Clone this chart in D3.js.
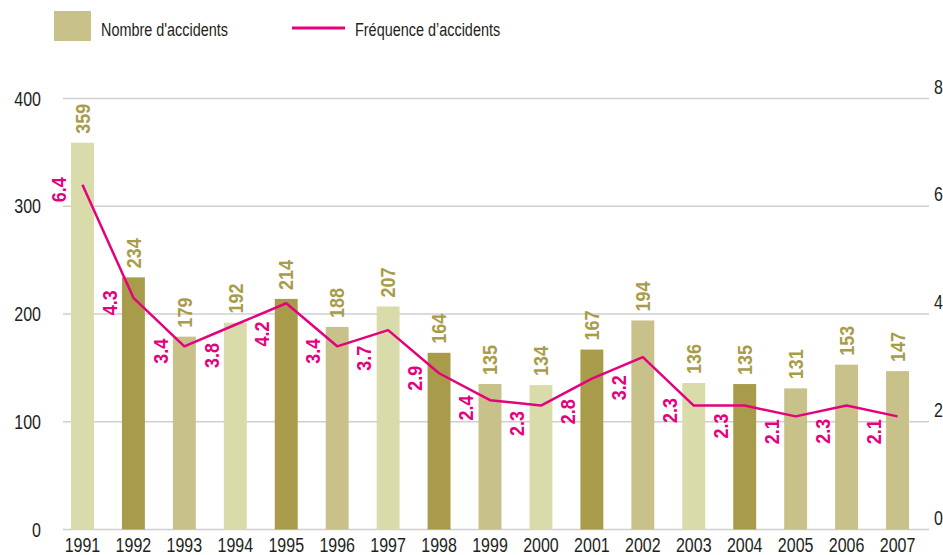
<!DOCTYPE html>
<html>
<head>
<meta charset="utf-8">
<script src="https://cdn.jsdelivr.net/npm/d3@7"></script>
<style>
  body { margin: 0; background: #fff; }
  svg text { font-family: "Liberation Sans", Arial, sans-serif; }
</style>
</head>
<body>
<div id="chart"></div>
<script>
// donnees
const years = ["1991","1992","1993","1994","1995","1996","1997","1998","1999","2000","2001","2002","2003","2004","2005","2006","2007"];
const accidents = [359,234,179,192,214,188,207,164,135,134,167,194,136,135,131,153,147];
const frequence = [6.4,4.3,3.4,3.8,4.2,3.4,3.7,2.9,2.4,2.3,2.8,3.2,2.3,2.3,2.1,2.3,2.1];
// teinte de chaque barre (0 clair, 1 fonce, 2 moyen)
const shade = [0,1,2,0,1,2,0,1,2,0,1,2,0,1,2,2,2];
const leftTicks = [0,100,200,300,400];
const rightTicks = [0,2,4,6,8];

const barColors = ["#d9dcaa", "#a89c4a", "#c9c18a"];
const olive = "#a89c4a";
const magenta = "#e5007d";
const ink = "#231f20";
// police etroite simulee
const narrow = 0.8;
const narrowBold = 0.9;

const svg = d3.select("#chart")
  .append("svg")
  .attr("width", 943)
  .attr("height", 555);

// echelles
const x = d3.scaleBand()
  .domain(years)
  .range([57, 923])
  .paddingInner(0.55)
  .paddingOuter(0.275);

const yLeft = d3.scaleLinear().domain([0, 400]).range([529.5, 98.5]);
const yRight = d3.scaleLinear().domain([0, 8]).range([529.5, 98.5]);

const cx = d => x(d) + x.bandwidth() / 2;

// grille
svg.append("g")
  .selectAll("line")
  .data(leftTicks)
  .enter()
  .append("line")
  .attr("x1", 63)
  .attr("x2", 929)
  .attr("y1", d => yLeft(d))
  .attr("y2", d => yLeft(d))
  .attr("stroke", "#cfcfcf")
  .attr("stroke-width", 1.5);

// axe gauche
svg.append("g")
  .selectAll("text")
  .data(leftTicks)
  .enter()
  .append("text")
  .attr("transform", d => `translate(41,${yLeft(d)}) scale(${narrow},1)`)
  .attr("dy", "0.36em")
  .attr("text-anchor", "end")
  .attr("font-size", 20)
  .attr("fill", ink)
  .text(d => d);

// axe droit
svg.append("g")
  .selectAll("text")
  .data(rightTicks)
  .enter()
  .append("text")
  .attr("transform", d => `translate(934,${yRight(d) - 12}) scale(${narrow},1)`)
  .attr("dy", "0.36em")
  .attr("font-size", 20)
  .attr("fill", ink)
  .text(d => d);

// barres
svg.append("g")
  .selectAll("rect")
  .data(years)
  .enter()
  .append("rect")
  .attr("x", d => x(d))
  .attr("width", x.bandwidth())
  .attr("y", (d, i) => yLeft(accidents[i]))
  .attr("height", (d, i) => yLeft(0) - yLeft(accidents[i]))
  .attr("fill", (d, i) => barColors[shade[i]]);

// valeurs des barres
svg.append("g")
  .selectAll("text")
  .data(years)
  .enter()
  .append("text")
  .attr("transform", (d, i) => `translate(${cx(d)},${yLeft(accidents[i]) - 9}) rotate(-90) scale(${narrowBold},1)`)
  .attr("dy", "0.36em")
  .attr("font-size", 20)
  .attr("font-weight", "bold")
  .attr("fill", olive)
  .text((d, i) => accidents[i]);

// annees
svg.append("g")
  .selectAll("text")
  .data(years)
  .enter()
  .append("text")
  .attr("transform", d => `translate(${cx(d)},552) scale(${narrow},1)`)
  .attr("text-anchor", "middle")
  .attr("font-size", 20)
  .attr("fill", ink)
  .text(d => d);

// courbe frequence
const line = d3.line()
  .x((d, i) => cx(years[i]))
  .y(d => yRight(d));

svg.append("path")
  .datum(frequence)
  .attr("d", line)
  .attr("fill", "none")
  .attr("stroke", magenta)
  .attr("stroke-width", 2.5)
  .attr("stroke-linejoin", "round");

// valeurs frequence : placees a gauche du point, sous la courbe
const labelShift = 24;
function labelY(d, i) {
  const py = yRight(d);
  if (i === 0) return py + 5;
  const prev = yRight(frequence[i - 1]);
  const t = labelShift / x.step();
  const lineAt = py + (prev - py) * t;
  return Math.max(py + 5, lineAt + 20.5);
}

svg.append("g")
  .selectAll("text")
  .data(frequence)
  .enter()
  .append("text")
  .attr("transform", (d, i) => `translate(${cx(years[i]) - labelShift},${labelY(d, i)}) rotate(-90) scale(${narrowBold},1)`)
  .attr("dy", "0.36em")
  .attr("text-anchor", "middle")
  .attr("font-size", 20)
  .attr("font-weight", "bold")
  .attr("fill", magenta)
  .text(d => d3.format(".1f")(d));

// legende
const legend = svg.append("g");
legend.append("rect")
  .attr("x", 54).attr("y", 11)
  .attr("width", 37).attr("height", 30)
  .attr("fill", barColors[2]);
legend.append("text")
  .attr("transform", `translate(101,29) scale(0.76,1)`)
  .attr("dy", "0.36em")
  .attr("font-size", 19)
  .attr("fill", ink)
  .text("Nombre d'accidents");
legend.append("line")
  .attr("x1", 292).attr("x2", 345)
  .attr("y1", 28).attr("y2", 28)
  .attr("stroke", magenta)
  .attr("stroke-width", 3);
legend.append("text")
  .attr("transform", `translate(355,29) scale(0.76,1)`)
  .attr("dy", "0.36em")
  .attr("font-size", 19)
  .attr("fill", ink)
  .text("Fréquence d’accidents");
</script>
</body>
</html>
